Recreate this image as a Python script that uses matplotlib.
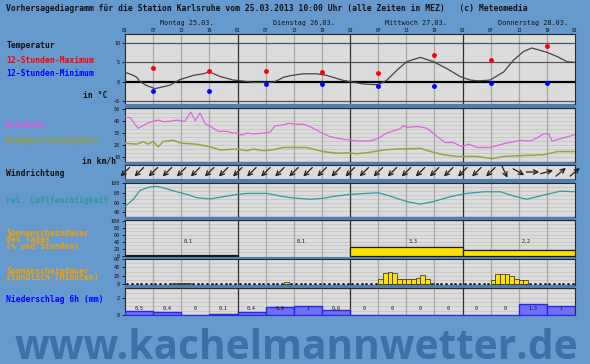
import numpy as np
import matplotlib
matplotlib.use("Agg")
import matplotlib.pyplot as plt
from matplotlib.transforms import blended_transform_factory, offset_copy
from matplotlib.patches import Rectangle

# ---------------- data (hours counted from Monday 25.03. 01:00) ----------------
day_names = ["Montag 25.03.", "Dienstag 26.03.", "Mittwoch 27.03.", "Donnerstag 28.03."]
hour_labels = ["01", "07", "13", "19"]

temp_h = [0, 1.8, 2.5, 3.2, 4.6, 6.4, 7.5, 9.6, 11.7, 14.6, 16.7, 18, 20.3, 23.1, 24, 27.4,
          31.7, 33.8, 35.2, 38, 40.9, 43, 46.6, 48, 50.8, 54, 55.8, 58, 60.1, 63, 65.8, 68.7,
          71.5, 73.6, 75.4, 77.9, 80.8, 82.9, 85, 86.8, 90, 92.2, 94.3, 96]
temp = [2.4, 1.6, 1.1, 0.0, -1.0, -1.8, -1.5, -0.9, 0.5, 1.6, 2.0, 2.5, 1.3, 0.4, 0.3, -0.2,
        -0.2, 1.1, 1.5, 2.0, 2.0, 1.6, 0.3, 0.0, -0.6, -0.8, 0.3, 2.9, 5.1, 6.2, 5.1, 3.3,
        1.3, 0.4, 0.2, 0.4, 2.5, 5.5, 7.7, 8.6, 7.5, 6.4, 5.1, 4.9]
ext_h = [6, 18, 30, 42, 54, 66, 78, 90]
tmax = [3.5, 2.6, 2.6, 2.5, 2.3, 6.8, 5.4, 9.2]
tmin = [-2.3, -2.3, -0.6, -0.7, -1.2, -1.1, -0.4, -0.3]

gust_h = [0, 1.1, 2.8, 4.6, 6, 7.1, 8.2, 9.6, 11, 12.8, 14, 15, 16, 17.1, 18.5, 19.9, 21.7,
          23.1, 24, 24.9, 26, 27.4, 29.6, 31, 32, 33.8, 34.9, 36.5, 38, 39.5, 41.6, 43.7,
          46.6, 49.4, 52.3, 54, 55.8, 58.7, 59.4, 60.1, 62.2, 64.4, 66.5, 68.3, 70, 71.9,
          73.3, 75.1, 77.9, 80.8, 84.3, 86.5, 87.9, 89.3, 90.4, 91.1, 92.9, 96]
gust = [43.7, 43, 34, 38, 40, 41, 39.6, 40, 41, 40, 47.8, 40.5, 47, 38, 35, 31.5, 31.5,
        30, 30, 28.2, 30, 29.3, 30, 31, 36, 37, 38.3, 37.5, 37.5, 35.5, 31, 27,
        24.7, 23.3, 23.3, 25.5, 30, 33.7, 36.4, 34.7, 35.6, 34.2, 27.4, 22, 22, 18.4,
        20.7, 17.8, 17.8, 21, 23.8, 23.3, 26, 29.3, 29.3, 23.3, 25.2, 28.7]

speed_h = [0, 2.5, 3.9, 5, 6, 7.1, 8.2, 10.3, 12.1, 15.3, 18.1, 20.3, 21.7, 24, 26, 27.4,
           29.6, 31.7, 33.8, 38.7, 42.3, 45, 48, 49.4, 52.3, 55.1, 58, 63, 65.8, 68, 70.8,
           75.1, 78.3, 80.8, 85, 89.3, 92.2, 96]
speed = [21.4, 20.6, 22.8, 20.6, 23, 18.4, 23, 23.8, 21.4, 20.6, 18.4, 15.7, 16, 16.5, 15.1,
         16.5, 15.1, 16, 17.8, 17.8, 14.3, 13, 13.2, 12.5, 13.7, 15.7, 16.5, 17, 13.7, 11.6,
         10.2, 10.2, 8.3, 10.2, 11, 11.6, 14.3, 14.3]

dir_h = list(range(0, 97, 3))
dir_from = [45] * 27 + [335, 300, 270, 255, 230, 230]

hum_h = [0, 1.8, 3.2, 5.3, 6.8, 8.2, 10.3, 13.2, 15.3, 18.1, 21, 24, 26, 30.3, 33.1, 35.2,
         39.5, 42.3, 45, 48, 54, 56.5, 60.1, 63, 65.8, 69.4, 72.9, 76.5, 80.1, 82.9, 85.7,
         89.3, 92.9, 96]
hum = [52, 66.7, 85, 92, 93, 90, 84, 76.7, 70, 67.3, 72, 76.7, 78.7, 78.7, 73.3, 70,
       66.7, 68.7, 73.3, 76.7, 80, 73.3, 62, 56.7, 62, 72, 78.7, 82, 82, 73.3, 66.7,
       75.3, 83.3, 82]

sun_day_start = [0, 24, 48, 72]
sun_day_pct = [1, 0, 26, 18]
sun_day_hours = [0.1, 0.1, 3.3, 2.2]

sun_hr_h = [10, 11, 12, 13, 34,
            54, 55, 56, 57, 58, 59, 60, 61, 62, 63, 64, 65,
            78, 79, 80, 81, 82, 83, 84, 85]
sun_hr_min = [1.5, 1.5, 1.5, 1.5, 5,
              11, 26, 30, 27, 13, 13, 13, 13, 15, 21, 13, 3,
              10, 25, 23, 23, 20, 12, 10, 9]

precip_h = list(range(0, 96, 6))
precip = [0.5, 0.4, 0, 0.1, 0.4, 0.9, 1, 0.6, 0, 0, 0, 0, 0, 0, 1.3, 1]

# ---------------- style ----------------
W, H = 590, 364
X0, X1 = 125, 575
BG = "#6699CC"
PANEL = "#DCDCDC"
MONO = "DejaVu Sans Mono"
plt.rcParams["font.family"] = MONO

fig = plt.figure(figsize=(W / 100, H / 100), dpi=100, facecolor=BG)


def px_axes(top, bot):
    return fig.add_axes([X0 / W, 1 - bot / H, (X1 - X0) / W, (bot - top) / H])


def ftext(x, y, s, **kw):
    kw.setdefault("family", MONO)
    return fig.text(x / W, 1 - y / H, s, va="center", **kw)


bounds = [(34.3, 103.5), (107.7, 162), (165, 179), (182.5, 216.7),
          (220, 256.7), (259, 285), (287.7, 315)]
# separator bands
for (t1, b1), (t2, b2) in zip(bounds[:-1], bounds[1:]):
    fig.patches.append(Rectangle((X0 / W, 1 - t2 / H), (X1 - X0) / W, (t2 - b1) / H,
                                 transform=fig.transFigure, facecolor="#4E7EB4",
                                 edgecolor="none", zorder=0))

axes = [px_axes(t, b) for t, b in bounds]
ax_t, ax_w, ax_d, ax_h, ax_sd, ax_sh, ax_p = axes

for ax in axes:
    ax.set_facecolor(PANEL)
    ax.set_xlim(0, 96)
    ax.set_xticks([])
    for s in ax.spines.values():
        s.set_color("#2a2a2a")
        s.set_linewidth(0.8)
    for hh in range(6, 96, 6):
        if hh % 24 == 0:
            ax.axvline(hh, color="#303030", lw=0.9, zorder=2)
        else:
            ax.axvline(hh, color="#A8A8A8", lw=0.9, zorder=1)
    ax.tick_params(axis="y", labelsize=3.7, length=2.5, width=0.6, pad=1, colors="#111111")

# ---- temperature ----
ax_t.set_ylim(-5.6, 12.1)
ax_t.set_yticks([-5, 0, 5, 10])
for v in [-5, 5, 10]:
    ax_t.axhline(v, color="#555555", lw=0.9, zorder=1)
ax_t.axhline(0, color="#000000", lw=1.6, zorder=2)
ax_t.plot(temp_h, temp, color="#454545", lw=0.9, zorder=3)
ax_t.plot(ext_h, tmax, "o", color="#FF0000", ms=2.5, zorder=4)
ax_t.plot(ext_h, tmin, "o", color="#0000FF", ms=2.5, zorder=4)
ax_t.xaxis.tick_top()
ax_t.set_xticks(range(0, 97, 6))
ax_t.set_xticklabels([hour_labels[i % 4] for i in range(17)])
ax_t.tick_params(axis="x", top=True, length=0, labelsize=3.3, pad=1.2, colors="#111111")

# ---- wind ----
ax_w.set_ylim(5.5, 51.5)
ax_w.set_yticks([10, 20, 30, 40, 50])
for v in np.arange(6.67, 51.5, 10 / 3):
    ax_w.axhline(v, color="#C6C6C6", lw=0.6, zorder=0.5)
ax_w.plot(gust_h, gust, color="#DD66DD", lw=0.9, zorder=3)
ax_w.plot(speed_h, speed, color="#A0A040", lw=1.1, zorder=3)

# ---- wind direction ----
ax_d.set_ylim(0, 1)
ax_d.set_yticks([])
L = 4.6
for hh, d in zip(dir_h, dir_from):
    b = np.deg2rad(d + 180)
    ux, uy = np.sin(b), np.cos(b)
    head = offset_copy(ax_d.transData, fig=fig, x=ux * L, y=uy * L, units="points")
    ax_d.annotate("", xy=(hh, 0.5), xycoords=head, xytext=(-2 * ux * L, -2 * uy * L),
                  textcoords="offset points", annotation_clip=False,
                  arrowprops=dict(arrowstyle="->", lw=0.9, color="#202020",
                                  shrinkA=0, shrinkB=0, mutation_scale=8))

# ---- humidity ----
ax_h.set_ylim(31, 101)
ax_h.set_yticks([40, 60, 80, 100])
for v in np.arange(100, 31, -25 / 3):
    ax_h.axhline(v, color="#C6C6C6", lw=0.6, zorder=0.5)
ax_h.plot(hum_h, hum, color="#339999", lw=0.9, zorder=3)

# ---- sunshine per day ----
ax_sd.set_ylim(-2.6, 102.9)
ax_sd.set_yticks([0, 20, 40, 60, 80, 100])
for v in range(10, 101, 10):
    ax_sd.axhline(v, color="#C6C6C6", lw=0.6, zorder=0.5)
sd_x = [x for x, p in zip(sun_day_start, sun_day_pct) if p > 0]
sd_p = [p for p in sun_day_pct if p > 0]
ax_sd.bar(sd_x, sd_p, width=24, align="edge", color="#FFE000",
          edgecolor="#1a1a1a", lw=0.9, zorder=3)
for x, s in zip(sun_day_start, sun_day_hours):
    ax_sd.text(x + 13.5, 42, "%g" % s, ha="center", va="center", fontsize=3.6,
               color="#111111", zorder=4)

# ---- sunshine per hour ----
ax_sh.set_ylim(-2.9, 60.7)
ax_sh.set_yticks([0, 20, 40, 60])
for v in range(10, 61, 10):
    ax_sh.axhline(v, color="#C6C6C6", lw=0.6, zorder=0.5)
ax_sh.plot(np.arange(96) + 0.5, np.zeros(96), ls="none", marker="s", ms=0.9,
           color="#111111", zorder=2)
ax_sh.bar(sun_hr_h, sun_hr_min, width=1, align="edge", color="#FFE000",
          edgecolor="#222222", lw=0.5, zorder=3)

# ---- precipitation ----
ax_p.set_ylim(0, 3.16)
ax_p.set_yticks([0, 2])
for v in np.arange(0.5, 3.2, 0.5):
    ax_p.axhline(v, color="#C6C6C6", lw=0.6, zorder=0.5)
ax_p.bar(precip_h, precip, width=6, align="edge", color="#6F6FFF",
         edgecolor="#2828E0", lw=1.0, zorder=3)
ax_p.spines["bottom"].set_color("#2828E0")
for x, v in zip(precip_h, precip):
    ax_p.text(x + 3, 0.72, "%g" % v, ha="center", va="center", fontsize=3.6,
              color="#111111", zorder=4)

# ---------------- texts ----------------
ftext(6.5, 8.5, "Vorhersagediagramm für die Station Karlsruhe vom 25.03.2013 10:00 Uhr "
      "(alle Zeiten in MEZ)   (c) Meteomedia", fontsize=5.8, weight="bold", color="#111111")

tr = blended_transform_factory(ax_t.transData, fig.transFigure)
for i, name in enumerate(day_names):
    ax_t.text(i * 24 + 7.5, 1 - 23 / H, name, transform=tr, ha="left", va="center",
              fontsize=4.9, color="#111111")

labels = [
    (6.5, 46, "Temperatur", "#111111"),
    (6.5, 60.7, "12-Stunden-Maximum", "#FF0000"),
    (6.5, 74, "12-Stunden-Minimum", "#0000FF"),
    (83, 95, "in °C", "#111111"),
    (6.5, 126, "Windböen", "#DD55DD"),
    (6.5, 140.7, "Windgeschwindigkeit", "#999933"),
    (82, 161, "in km/h", "#111111"),
    (6.5, 173.3, "Windrichtung", "#111111"),
    (6.5, 200.7, "rel. Luftfeuchtigkeit", "#2A9A9A"),
    (6.5, 233.3, "Sonnenscheindauer", "#F5A000"),
    (6.5, 239.8, "des Tages", "#F5A000"),
    (6.5, 246.3, "(% und Stunden)", "#F5A000"),
    (6.5, 271, "Sonnenscheindauer", "#F5A000"),
    (6.5, 277.7, "stündlich (Minuten)", "#F5A000"),
    (6.5, 299, "Niederschlag 6h (mm)", "#0000FF"),
]
for x, y, s, c in labels:
    ftext(x, y, s, fontsize=5.8, weight="bold", color=c)

# watermark
wm = fig.text(296.5 / W, 1 - 359 / H, "www.kachelmannwetter.de", family="Open Sans",
              weight="bold", fontsize=30, color="#3D6FA8", ha="center", va="baseline")
fig.canvas.draw()
bb = wm.get_window_extent()
wm.set_fontsize(30 * 563 / bb.width)

fig.savefig("out.png", dpi=100, facecolor=BG)
